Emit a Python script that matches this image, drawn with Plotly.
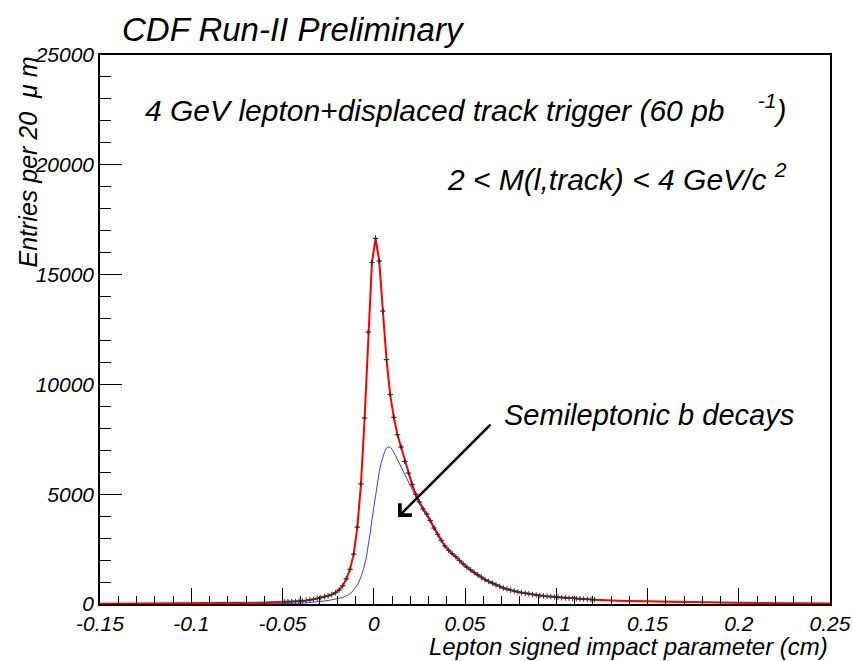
import numpy as np
import plotly.graph_objects as go

# Lepton signed impact parameter histogram, 20 um bins (bin centres in cm)
data_x = np.round(np.arange(-0.049, 0.1215, 0.002), 4)
data_y = [
    95, 100, 105, 115, 125, 140, 160, 180, 210, 250,
    290, 330, 370, 430, 515, 640, 830, 1150, 1580, 2270,
    3500, 5470, 8470, 12380, 15550,
    16650, 15620, 13340, 11130, 9540, 8500, 7710, 7150, 6490, 5960,
    5450, 5000, 4650, 4330, 4100, 3800, 3460, 3170, 2900, 2640,
    2450, 2290, 2150, 1980, 1820, 1680, 1560, 1440, 1330, 1220,
    1110, 1030, 950, 870, 800, 730, 680, 630, 590, 550,
    520, 490, 460, 430, 410, 390, 370, 350, 335, 320,
    305, 290, 280, 265, 255, 245, 235, 225, 215, 205,
    195,
]

# Total fit: tails outside the histogram window
fit_left_x = [-0.15, -0.13, -0.11, -0.09, -0.08, -0.07, -0.06, -0.055]
fit_left_y = [8, 12, 18, 28, 38, 52, 70, 82]
fit_right_x = [0.13, 0.14, 0.15, 0.16, 0.18, 0.20, 0.22, 0.25]
fit_right_y = [165, 140, 120, 100, 72, 52, 38, 25]

# Semileptonic b component of the fit
blue_x = [-0.15, -0.12, -0.09, -0.07, -0.055, -0.045, -0.038, -0.032, -0.028, -0.024,
          -0.02, -0.017, -0.014, -0.012, -0.010, -0.0085, -0.007, -0.0055, -0.004, -0.003,
          -0.002, -0.001, 0.0, 0.001, 0.002, 0.003, 0.004, 0.005, 0.006, 0.007,
          0.008, 0.009, 0.010, 0.012, 0.015, 0.018, 0.021, 0.025, 0.03, 0.035,
          0.04, 0.045, 0.05, 0.055, 0.06, 0.065, 0.07, 0.08, 0.09, 0.1,
          0.11, 0.12, 0.135, 0.15, 0.17, 0.2, 0.25]
blue_y = [3, 5, 8, 12, 18, 28, 45, 80, 125, 175,
          235, 300, 410, 540, 750, 944, 1230, 1620, 2150, 2614,
          3200, 3830, 4400, 5000, 5580, 6020, 6400, 6720, 6950, 7100,
          7160, 7130, 7050, 6750, 6250, 5750, 5260, 4550, 3870, 3100,
          2500, 2090, 1710, 1390, 1120, 910, 740, 510, 380, 300,
          240, 195, 145, 110, 80, 50, 25]

x_tickvals = [-0.15, -0.1, -0.05, 0, 0.05, 0.1, 0.15, 0.2, 0.25]
x_ticktext = ["-0.15", "-0.1", "-0.05", "0", "0.05", "0.1", "0.15", "0.2", "0.25"]
y_tickvals = [0, 5000, 10000, 15000, 20000, 25000]
y_ticktext = ["0", "5000", "10000", "15000", "20000", "25000"]

FONT = "Liberation Sans, Arial, Helvetica, sans-serif"

fit_x = list(fit_left_x) + list(data_x) + list(fit_right_x)
fit_y = list(fit_left_y) + list(data_y) + list(fit_right_y)

fig = go.Figure()

fig.add_trace(go.Scatter(
    x=blue_x, y=blue_y, mode="lines",
    line=dict(color="#3a3aff", width=1),
    hoverinfo="skip", showlegend=False,
))
fig.add_trace(go.Scatter(
    x=fit_x, y=fit_y, mode="lines",
    line=dict(color="#ff0000", width=2),
    hoverinfo="skip", showlegend=False,
))
fig.add_trace(go.Scatter(
    x=data_x, y=data_y, mode="markers",
    marker=dict(symbol="cross-thin", size=4, color="#333333",
                line=dict(color="#333333", width=1)),
    error_y=dict(type="data", array=np.sqrt(np.array(data_y, float)),
                 color="#333333", thickness=1, width=0),
    error_x=dict(type="constant", value=0.001, color="#333333",
                 thickness=1, width=0),
    showlegend=False,
))

txt = dict(family=FONT, color="black", style="italic")

fig.add_annotation(xref="paper", yref="paper", x=0.027, y=1.046,
                   xanchor="left", yanchor="middle", showarrow=False,
                   text="CDF Run-II Preliminary", font=dict(txt, size=33))
fig.add_annotation(xref="x", yref="y", x=0.0505, y=22590,
                   xanchor="center", yanchor="middle", showarrow=False,
                   text="4 GeV lepton+displaced track trigger (60 pb\u00a0\u00a0\u00a0\u00a0<sup>-1</sup>)",
                   font=dict(txt, size=30))
fig.add_annotation(xref="x", yref="y", x=0.2275, y=19450,
                   xanchor="right", yanchor="middle", showarrow=False,
                   text="2 < M(l,track) < 4 GeV/c\u00a0<sup>2</sup>",
                   font=dict(txt, size=30))
fig.add_annotation(xref="x", yref="y", x=0.0703, y=8600,
                   xanchor="left", yanchor="middle", showarrow=False,
                   text="Semileptonic b decays", font=dict(txt, size=29))
fig.add_annotation(xref="x", yref="y", x=0.0133, y=3960,
                   axref="pixel", ayref="pixel", ax=94, ay=-94,
                   showarrow=True, arrowhead=4, arrowsize=1.3,
                   arrowwidth=2.5, arrowcolor="black", text="")
fig.add_annotation(xref="paper", yref="paper", x=-0.1, y=1.0,
                   xanchor="center", yanchor="top", textangle=-90,
                   showarrow=False,
                   text="Entries per 20\u00a0\u00a0\u03bc m", font=dict(txt, size=25))
fig.add_annotation(xref="paper", yref="paper", x=1.0, y=-0.077,
                   xanchor="right", yanchor="middle", showarrow=False,
                   text="Lepton signed impact parameter (cm)",
                   font=dict(txt, size=24))

axis_common = dict(
    showgrid=False, zeroline=False, showline=True, mirror=True,
    linecolor="black", linewidth=1.5, ticks="inside", tickcolor="black",
    tickwidth=1, tickfont=dict(txt, size=21), automargin=False,
)

fig.update_xaxes(axis_common, range=[-0.15, 0.25], tickvals=x_tickvals,
                 ticktext=x_ticktext, ticklen=16,
                 minor=dict(dtick=0.01, ticklen=8, ticks="inside",
                            tickcolor="black", tickwidth=1))
fig.update_yaxes(axis_common, range=[0, 25000], tickvals=y_tickvals,
                 ticktext=y_ticktext, ticklen=22,
                 minor=dict(dtick=1000, ticklen=11, ticks="inside",
                            tickcolor="black", tickwidth=1))

fig.update_layout(
    width=853, height=661,
    margin=dict(l=100, r=23, t=55, b=57),
    paper_bgcolor="white", plot_bgcolor="white",
    font=dict(family=FONT, color="black"),
    showlegend=False,
)

fig.write_html("out.html")
